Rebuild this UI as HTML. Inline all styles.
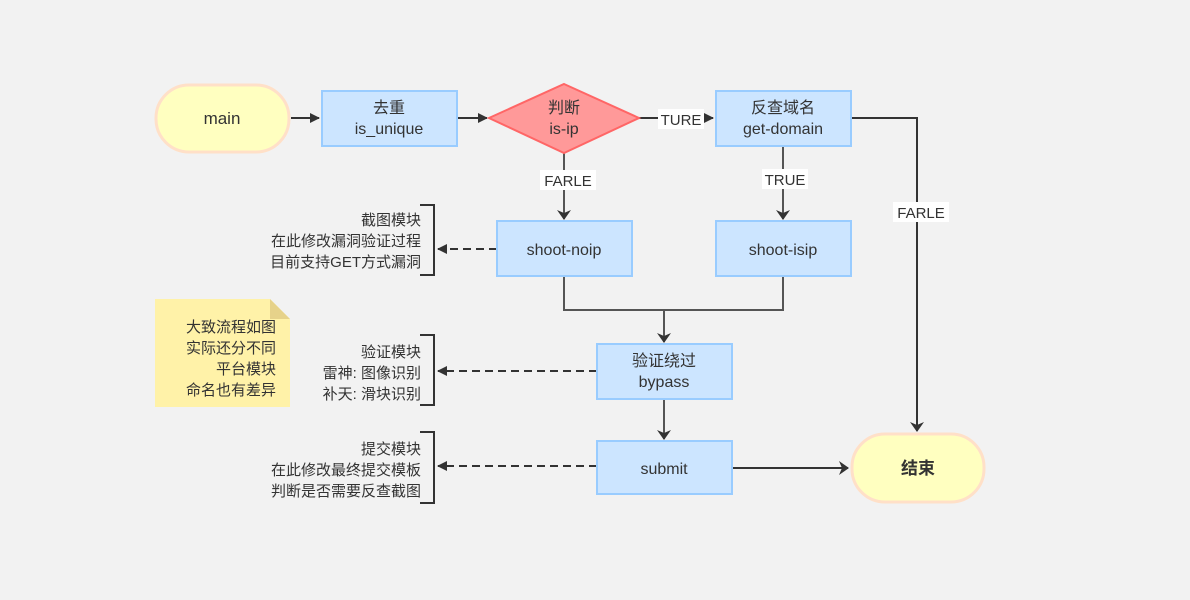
<!DOCTYPE html><html><head><meta charset="utf-8"><style>body{margin:0;background:#f2f2f2}svg{display:block}text{font-family:"Liberation Sans","Noto Sans CJK SC",sans-serif;fill:#333}</style></head><body>
<svg width="1190" height="600" viewBox="0 0 1190 600">
<defs><marker id="a" markerWidth="10" markerHeight="10" refX="9" refY="5" orient="auto" markerUnits="userSpaceOnUse"><path d="M0,0L10,5L0,10Z" fill="#333"/></marker>
<marker id="b" markerWidth="10" markerHeight="14" refX="9" refY="7" orient="auto" markerUnits="userSpaceOnUse"><path d="M0,0L10,7L0,14L3,7Z" fill="#333"/></marker></defs>
<rect width="1190" height="600" fill="#f2f2f2"/>
<g fill="none" stroke="#333" stroke-width="2">
<path d="M291 118H319" marker-end="url(#a)"/>
<path d="M457 118H487" marker-end="url(#a)"/>
<path d="M639 118H713" marker-end="url(#a)"/>
<path d="M851 118H917V431" marker-end="url(#b)"/>
<path d="M732 468H848" marker-end="url(#b)"/>
</g>
<g fill="none" stroke="#555" stroke-width="2">
<path d="M564 153V219" marker-end="url(#b)"/>
<path d="M783 146V219" marker-end="url(#b)"/>
<path d="M564 276V310H783V276"/>
<path d="M664 310V342" marker-end="url(#b)"/>
<path d="M664 399V439" marker-end="url(#b)"/>
</g>
<g fill="none" stroke="#333" stroke-width="2" stroke-dasharray="8,5">
<path d="M497 249H438" marker-end="url(#a)"/>
<path d="M597 371H438" marker-end="url(#a)"/>
<path d="M597 466H438" marker-end="url(#a)"/>
</g>
<g fill="none" stroke="#333" stroke-width="2">
<path d="M420 205H434V275H420"/><path d="M420 335H434V405H420"/><path d="M420 432H434V503H420"/>
</g>
<rect x="156" y="85" width="133" height="67" rx="33" fill="#ffffc0" stroke="#ffe0c8" stroke-width="3"/>
<rect x="852" y="434" width="132" height="68" rx="33" fill="#ffffc0" stroke="#ffe0c8" stroke-width="3"/>
<g fill="#cce5ff" stroke="#99ccff" stroke-width="2">
<rect x="322" y="91" width="135" height="55"/><rect x="716" y="91" width="135" height="55"/>
<rect x="497" y="221" width="135" height="55"/><rect x="716" y="221" width="135" height="55"/>
<rect x="597" y="344" width="135" height="55"/><rect x="597" y="441" width="135" height="53"/>
</g>
<path d="M564 84L639 118L564 153L489 118Z" fill="#ff9999" stroke="#ff6666" stroke-width="2"/>
<path d="M155 299H270L290 319V407H155Z" fill="#fff2a8"/><path d="M270 299L290 319H270Z" fill="#e6d28a"/>
<rect x="658" y="109" width="46" height="20" fill="#fff"/><text x="681" y="125" font-size="15" text-anchor="middle">TURE</text>
<rect x="540" y="170" width="56" height="20" fill="#fff"/><text x="568" y="186" font-size="15" text-anchor="middle">FARLE</text>
<rect x="762" y="169" width="46" height="20" fill="#fff"/><text x="785" y="185" font-size="15" text-anchor="middle">TRUE</text>
<rect x="893" y="202" width="56" height="20" fill="#fff"/><text x="921" y="218" font-size="15" text-anchor="middle">FARLE</text>
<g font-size="16" text-anchor="middle">
<text x="222" y="124" font-size="17">main</text>
<text x="389" y="113">去重</text><text x="389" y="134">is_unique</text>
<text x="564" y="113">判断</text><text x="564" y="134">is-ip</text>
<text x="783" y="113">反查域名</text><text x="783" y="134">get-domain</text>
<text x="564" y="255">shoot-noip</text><text x="783" y="255">shoot-isip</text>
<text x="664" y="366">验证绕过</text><text x="664" y="387">bypass</text>
<text x="664" y="474">submit</text>
<text x="918" y="474" font-size="17" font-weight="bold">结束</text>
</g>
<g font-size="15" text-anchor="end" fill="#444">
<text x="421" y="225">截图模块</text><text x="421" y="246">在此修改漏洞验证过程</text><text x="421" y="267">目前支持GET方式漏洞</text>
<text x="421" y="357">验证模块</text><text x="421" y="378">雷神: 图像识别</text><text x="421" y="399">补天: 滑块识别</text>
<text x="421" y="454">提交模块</text><text x="421" y="475">在此修改最终提交模板</text><text x="421" y="496">判断是否需要反查截图</text>
<text x="276" y="332">大致流程如图</text><text x="276" y="353">实际还分不同</text><text x="276" y="374">平台模块</text><text x="276" y="395">命名也有差异</text>
</g>
</svg></body></html>
